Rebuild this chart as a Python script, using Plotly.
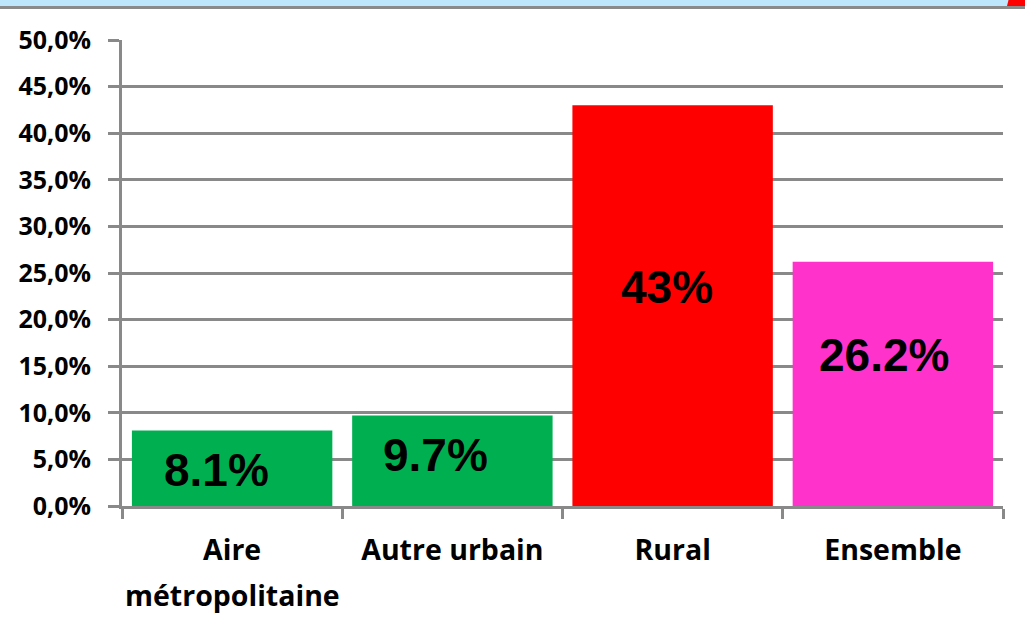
import plotly.graph_objects as go

categories = ["Aire métropolitaine", "Autre urbain", "Rural", "Ensemble"]
tick_text = ["Aire", "Autre urbain", "Rural", "Ensemble"]
values = [8.1, 9.7, 43.0, 26.2]
labels = ["8.1%", "9.7%", "43%", "26.2%"]
colors = ["#00B050", "#00B050", "#FF0000", "#FF33CC"]
y_ticks = [0, 5, 10, 15, 20, 25, 30, 35, 40, 45, 50]
y_tick_text = ["0,0%", "5,0%", "10,0%", "15,0%", "20,0%", "25,0%", "30,0%", "35,0%", "40,0%", "45,0%", "50,0%"]

# label placement styles (y position in axis units, x pixel shift)
label_y = [3.9, 5.5, 23.5, 16.2]
label_xshift = [-16, -17, -6, -9]

GRID = "#898989"
ytick_font = dict(family="Open Sans, sans-serif", size=25, color="black")
xtick_font = dict(family="Open Sans, sans-serif", size=28.5, color="black")

fig = go.Figure()
fig.add_trace(go.Bar(
    x=categories, y=values, marker=dict(color=colors, line=dict(width=0)),
    width=0.91, hoverinfo="skip",
))

for c, lab, ly, xs in zip(categories, labels, label_y, label_xshift):
    fig.add_annotation(x=c, y=ly, text="<b>" + lab + "</b>", showarrow=False,
                       xshift=xs, yanchor="middle", xanchor="center",
                       font=dict(family="Liberation Sans, Arial, sans-serif", size=46, color="black"))

# second line of first category label
fig.add_annotation(x=categories[0], y=0, yref="paper", yshift=-89, yanchor="middle",
                   text="<b>métropolitaine</b>", showarrow=False, font=xtick_font)

# top decoration band
W, H = 881, 466
def px(x):
    return (x - 122) / W
def py(y):
    return (506 - y) / H
fig.add_shape(type="rect", xref="paper", yref="paper", x0=px(0), x1=px(1025), y0=py(-2), y1=py(7),
              fillcolor="#BDE5FB", line=dict(width=0), layer="below")
fig.add_shape(type="rect", xref="paper", yref="paper", x0=px(0), x1=px(1025), y0=py(6), y1=py(9),
              fillcolor="#8A8A8A", line=dict(width=0))
fig.add_shape(type="path", xref="paper", yref="paper",
              path=f"M {px(1007)} {py(6)} L {px(1009)} {py(-2)} L {px(1027)} {py(-2)} L {px(1027)} {py(6)} Z",
              fillcolor="#FF0000", line=dict(width=0))

fig.update_layout(
    width=1025, height=627,
    margin=dict(l=122, r=22, t=40, b=121),
    paper_bgcolor="white", plot_bgcolor="white",
    showlegend=False, bargap=0.09,
    xaxis=dict(
        tickmode="array", tickvals=categories, ticktext=["<b>" + t + "</b>" for t in tick_text],
        tickson="boundaries", ticks="outside", ticklen=10, tickwidth=3, tickcolor=GRID,
        showline=True, linecolor=GRID, linewidth=3, showgrid=False,
        tickfont=xtick_font, ticklabelstandoff=17, range=[-0.5, 3.5],
    ),
    yaxis=dict(
        range=[0, 50], tickvals=y_ticks, ticktext=["<b>" + t + "</b>" for t in y_tick_text],
        ticks="outside", ticklen=11, tickwidth=3, tickcolor=GRID,
        showgrid=True, gridcolor=GRID, gridwidth=3,
        showline=True, linecolor=GRID, linewidth=3, zeroline=False,
        tickfont=ytick_font, ticklabelstandoff=12,
    ),
)

fig.write_html("out.html", config={"displayModeBar": False},
               post_script="document.body.style.margin='0';document.body.style.overflow='hidden';")
